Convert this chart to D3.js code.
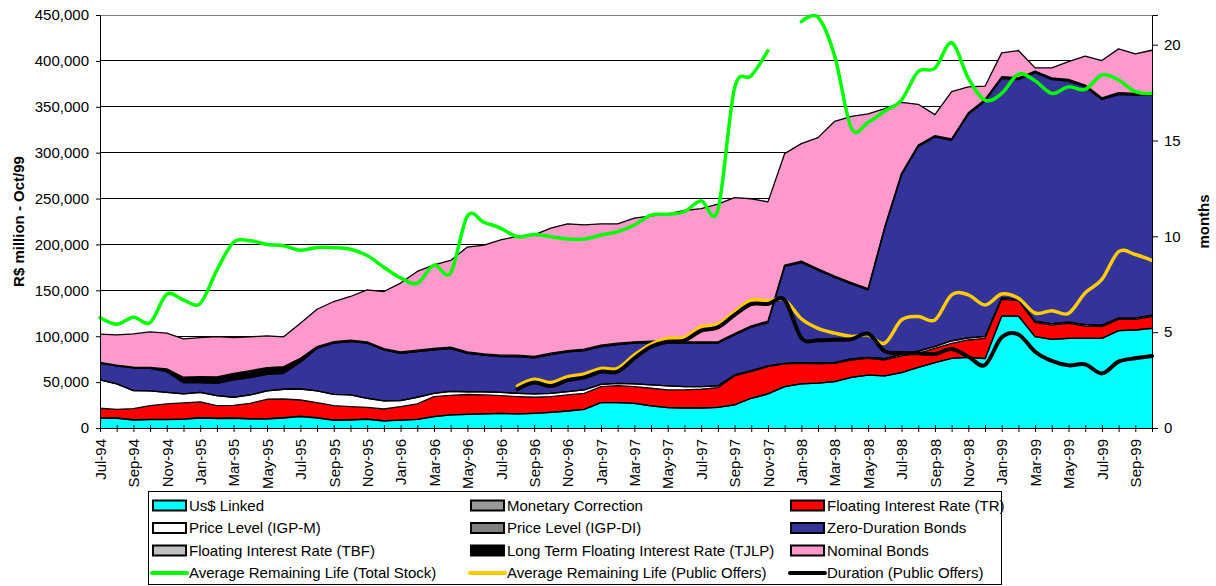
<!DOCTYPE html>
<html><head><meta charset="utf-8">
<script src="https://cdn.jsdelivr.net/npm/d3@7"></script>
<style>
body{margin:0;background:#fff}
svg{display:block}
text{font-family:"Liberation Sans",Arial,sans-serif}
</style>
</head><body>
<svg id="chart" width="1216" height="586"></svg>
<script>
// ---------- DATA ----------
const months = [
 "Jul-94","Aug-94","Sep-94","Oct-94","Nov-94","Dec-94",
 "Jan-95","Feb-95","Mar-95","Apr-95","May-95","Jun-95","Jul-95","Aug-95","Sep-95","Oct-95","Nov-95","Dec-95",
 "Jan-96","Feb-96","Mar-96","Apr-96","May-96","Jun-96","Jul-96","Aug-96","Sep-96","Oct-96","Nov-96","Dec-96",
 "Jan-97","Feb-97","Mar-97","Apr-97","May-97","Jun-97","Jul-97","Aug-97","Sep-97","Oct-97","Nov-97","Dec-97",
 "Jan-98","Feb-98","Mar-98","Apr-98","May-98","Jun-98","Jul-98","Aug-98","Sep-98","Oct-98","Nov-98","Dec-98",
 "Jan-99","Feb-99","Mar-99","Apr-99","May-99","Jun-99","Jul-99","Aug-99","Sep-99","Oct-99"];

const usLinked = [10500,10500,8700,9100,9100,9500, 10900,10200,10500,9800,9800,10900, 12400,10900,8400,8700,9500,7600,
 8500,9500,12400,14200,14900,15300, 16000,15300,16000,17100,18500,20400, 27600,27600,26900,24000,22200,21800,
 21800,22500,25100,32400,37100,45100, 48000,49000,50500,55200,57700,56700, 60300,66100,71200,75900,77000,75500,
 122000,122000,99500,96600,97700,97700, 97700,106000,106800,108600];
const monetaryCorrection = [400,400,400,400,400,400, 400,400,400,400,400,400, 400,400,400,400,400,400,
 0,0,0,0,0,0, 0,0,0,0,0,0, 0,0,0,0,0,0, 0,0,0,0,0,0, 0,0,0,0,0,0, 0,0,0,0,0,0, 0,0,0,0,0,0, 0,0,0,0];
const floatingTR = [10600,9500,12000,14900,16700,17400, 17100,13800,13800,16700,21100,20300, 17700,16300,15600,14200,12600,12700,
 14800,16700,21800,21400,21600,20700, 19300,18900,17500,17100,17500,17400, 17500,18600,18200,19300,19300,19700,
 20400,21500,31600,29000,29800,24700, 22500,21000,20000,18900,18200,17400, 18200,15300,15600,16400,18900,22200,
 18200,16700,15300,15600,16300,13400, 12700,12400,11600,12700];
const priceIGPM = [30900,27600,19600,16000,12700,9800, 10500,10900,8800,9100,9100,10600, 12000,12800,12300,12700,9900,8800,
 6500,7300,3600,4400,3000,3300, 3600,3600,3600,3600,3600,3700, 2500,2500,2900,3600,4300,3600,
 2900,1800,1100,1100,700,700, 800,1300,1000,1100,1100,1400, 1500,2100,1800,2500,2100,1800,
 1300,1300,1200,1200,1200,1200, 1200,1200,1200,1200];
const priceIGPDI = [0,0,0,0,0,0, 0,0,0,0,0,0, 0,0,0,0,0,0, 0,0,0,0,0,0, 0,0,0,0,0,0, 0,0,0,0,0,0,
 0,0,0,0,0,0, 0,0,0,0,0,0, 400,400,400,400,400,400, 400,400,400,400,400,400, 400,400,400,400];
const zeroDuration = [18100,19600,24700,24700,22500,12300, 10500,13400,18900,18900,18100,17400, 29100,46500,55700,58200,60000,55600,
 51600,49800,47300,46500,41900,40000, 38900,40000,39300,42200,43300,42900, 41100,42200,44400,46200,47300,47300,
 47300,46600,43600,47300,47300,105500, 109000,100700,92500,81800,73500,142500, 195600,223000,228100,218300,243100,256100,
 238800,239200,270500,265800,262200,258900, 245800,243300,242500,239600];
const floatingTBF = [0,0,0,0,0,0, 0,0,0,0,0,0, 0,0,0,0,0,0, 0,0,0,0,0,0, 0,0,0,0,0,0, 0,0,0,0,0,0,
 0,0,0,0,0,0, 0,0,0,0,0,0, 0,0,0,0,800,800, 800,800,800,800,800,800, 800,800,800,800];
const tjlp = [1000,1000,1000,1000,3000,5900, 6600,6900,7200,7600,7300,7300, 4400,1800,1800,1500,1500,1500,
 1500,1500,1500,1500,1500,1500, 1500,1500,1500,1500,1500,1500, 1500,1500,1500,1500,1500,1500,
 1500,1500,1500,1500,1500,1500, 1500,1500,1500,1500,1500,1500, 1500,1500,1500,1500,1200,1200,
 1200,1200,1200,1200,1200,1200, 1200,1200,1200,1200];
const nominalBonds = [30700,32800,36100,38600,38900,41800, 42500,44000,38900,36800,34600,32400, 38200,40700,43600,47600,56600,62100,
 75000,85800,91200,94600,114200,118500, 125800,129400,132600,136300,138100,135500, 132300,130100,134800,136600,138800,143100,
 145100,150100,148100,138500,130000,121400, 128000,142900,168700,181100,190200,128500, 77400,44300,22900,51500,28100,14400,
 26000,29700,3500,10800,19500,31500, 40600,47800,43100,47100];

// months (right axis)
const avgLifeTotal = [5.76,5.41,5.78,5.50,6.98,6.68, 6.50,8.24,9.69,9.77,9.58,9.51, 9.28,9.42,9.41,9.33,9.00,8.39,
 7.83,7.55,8.50,8.09,11.06,10.73, 10.42,9.98,10.10,9.98,9.86,9.86, 10.07,10.24,10.59,11.11,11.15,11.29,
 11.86,11.37,17.72,18.37,19.69,null, 21.20,21.43,19.40,15.64,15.95,16.54, 17.11,18.60,18.77,20.10,18.25,17.11,
 17.46,18.47,18.12,17.46,17.80,17.67, 18.42,18.16,17.55,17.46];
const avgLifeOffers = [null,null,null,null,null,null, null,null,null,null,null,null, null,null,null,null,null,null,
 null,null,null,null,null,null, null,2.19,2.54,2.37,2.68,2.82, 3.11,3.11,3.81,4.37,4.68,4.73,
 5.29,5.43,6.07,6.68,6.64,6.68, 5.70,5.20,4.95,4.78,4.85,4.43, 5.64,5.82,5.64,6.95,6.95,6.42,
 6.99,6.77,6.00,6.12,5.98,7.05, 7.75,9.20,9.05,8.75];
const durationOffers = [null,null,null,null,null,null, null,null,null,null,null,null, null,null,null,null,null,null,
 null,null,null,null,null,null, null,2.02,2.37,2.19,2.50,2.64, 2.94,2.94,3.64,4.24,4.50,4.56,
 5.08,5.25,5.90,6.47,6.47,6.68, 4.70,4.58,4.60,4.63,4.92,4.00, 3.92,3.90,3.86,4.12,3.72,3.29,
 4.73,4.88,3.98,3.50,3.27,3.32, 2.85,3.46,3.64,3.76];

const leftTicks = [0,50000,100000,150000,200000,250000,300000,350000,400000,450000];
const rightTicks = [0,5,10,15,20];

const areaSeries = [
 {name:"Us$ Linked", values:usLinked, color:"#00FFFF"},
 {name:"Monetary Correction", values:monetaryCorrection, color:"#999999"},
 {name:"Floating Interest Rate (TR)", values:floatingTR, color:"#FF0000"},
 {name:"Price Level (IGP-M)", values:priceIGPM, color:"#FFFFFF"},
 {name:"Price Level (IGP-DI)", values:priceIGPDI, color:"#808080"},
 {name:"Zero-Duration Bonds", values:zeroDuration, color:"#333399"},
 {name:"Floating Interest Rate (TBF)", values:floatingTBF, color:"#C0C0C0"},
 {name:"Long Term Floating Interest Rate (TJLP)", values:tjlp, color:"#000000"},
 {name:"Nominal Bonds", values:nominalBonds, color:"#FF99CC"}
];
const lineSeries = [
 {name:"Average Remaining Life (Total Stock)", values:avgLifeTotal, color:"#00FF00", width:3.5},
 {name:"Average Remaining Life (Public Offers)", values:avgLifeOffers, color:"#FFCC00", width:3.5},
 {name:"Duration (Public Offers)", values:durationOffers, color:"#000000", width:4}
];

// ---------- CHART ----------
const svg = d3.select("#chart");
const L = 100, R = 1152, T = 15, B = 428;
const x = d3.scalePoint().domain(months).range([L, R]).padding(0);
const y = d3.scaleLinear().domain([0, 450000]).range([B, T]);
const yR = d3.scaleLinear().domain([0, 21.55]).range([B, T]);

// gridlines
svg.append("g").selectAll("line").data(leftTicks.filter(d => d > 0)).join("line")
  .attr("x1", L).attr("x2", R).attr("y1", d => y(d)).attr("y2", d => y(d))
  .attr("stroke", d => d === 450000 ? "#808080" : "#000").attr("stroke-width", 1)
  .attr("shape-rendering", "crispEdges");

// stacked areas
const rows = months.map((m, i) => {
  const r = {month: m};
  areaSeries.forEach((s, k) => r["s" + k] = s.values[i]);
  return r;
});
const keys = areaSeries.map((s, k) => "s" + k);
const stacked = d3.stack().keys(keys)(rows);
const area = d3.area().x(d => x(d.data.month)).y0(d => y(d[0])).y1(d => y(d[1]));
const topLine = d3.line().x(d => x(d.data.month)).y(d => y(d[1]));

svg.append("g").selectAll("path").data(stacked).join("path")
  .attr("d", area).attr("fill", (d, k) => areaSeries[k].color);
svg.append("g").selectAll("path").data(stacked).join("path")
  .attr("d", topLine).attr("fill", "none").attr("stroke", "#000").attr("stroke-width", 1.3)
  .attr("stroke-linejoin", "round");

// lines
const lineGen = d3.line().defined(d => d.v != null)
  .x(d => x(d.m)).y(d => yR(d.v)).curve(d3.curveCatmullRom.alpha(0));
lineSeries.forEach(s => {
  const pts = months.map((m, i) => ({m, v: s.values[i]}));
  svg.append("path").attr("d", lineGen(pts)).attr("fill", "none")
    .attr("stroke", s.color).attr("stroke-width", s.width)
    .attr("stroke-linejoin", "round").attr("stroke-linecap", "round");
});

// axes
const fs = "15px";
const gL = svg.append("g").attr("transform", `translate(${L},0)`)
  .call(d3.axisLeft(y).tickValues(leftTicks).tickSize(4).tickPadding(7).tickFormat(d3.format(",")));
gL.selectAll("text").style("font-size", fs).attr("fill", "#000");
gL.selectAll("line,path").attr("stroke", "#000");

const gR = svg.append("g").attr("transform", `translate(${R},0)`)
  .call(d3.axisRight(yR).tickValues(rightTicks).tickSize(6).tickPadding(6).tickFormat(d3.format("d")));
gR.selectAll("text").style("font-size", fs).attr("fill", "#000");
gR.selectAll("line,path").attr("stroke", "#000");

const gB = svg.append("g").attr("transform", `translate(0,${B})`)
  .call(d3.axisBottom(x).tickSize(4).tickSizeOuter(0).tickFormat((d, i) => i % 2 === 0 ? d : ""));
gB.selectAll(".tick line").attr("y1", -3).attr("stroke", "#000");
gB.select(".domain").attr("stroke", "#000");
gB.selectAll("text").style("font-size", fs).attr("fill", "#000")
  .attr("transform", "rotate(-90)").attr("x", -11).attr("y", 0).attr("dy", "0.35em")
  .style("text-anchor", "end");

// axis titles
svg.append("text").attr("transform", "translate(18,221.5) rotate(-90)")
  .attr("text-anchor", "middle").attr("dominant-baseline", "central")
  .style("font-size", fs).style("font-weight", "bold").text("R$ million - Oct/99");
svg.append("text").attr("transform", "translate(1203,221.5) rotate(-90)")
  .attr("text-anchor", "middle").attr("dominant-baseline", "central")
  .style("font-size", fs).style("font-weight", "bold").text("months");

// legend
const lg = svg.append("g");
lg.append("rect").attr("x", 148.5).attr("y", 491.5).attr("width", 853).attr("height", 93)
  .attr("fill", "#fff").attr("stroke", "#000").attr("stroke-width", 1);
const colX = [152, 470, 790];
const rowY = [505.5, 528, 550.5, 573];
const items = areaSeries.map(s => ({...s, type: "area"})).concat(lineSeries.map(s => ({...s, type: "line"})));
items.forEach((it, k) => {
  const cx = colX[k % 3], cy = rowY[Math.floor(k / 3)];
  if (it.type === "area") {
    lg.append("rect").attr("x", cx + 1).attr("y", cy - 5).attr("width", 33).attr("height", 10)
      .attr("fill", it.color).attr("stroke", "#000").attr("stroke-width", 2);
  } else {
    lg.append("line").attr("x1", cx).attr("x2", cx + 35).attr("y1", cy).attr("y2", cy)
      .attr("stroke", it.color).attr("stroke-width", 4).attr("stroke-linecap", "round");
  }
  lg.append("text").attr("x", cx + 37).attr("y", cy).attr("dy", "0.35em")
    .style("font-size", fs).attr("fill", "#000").text(it.name);
});
</script>
</body></html>
